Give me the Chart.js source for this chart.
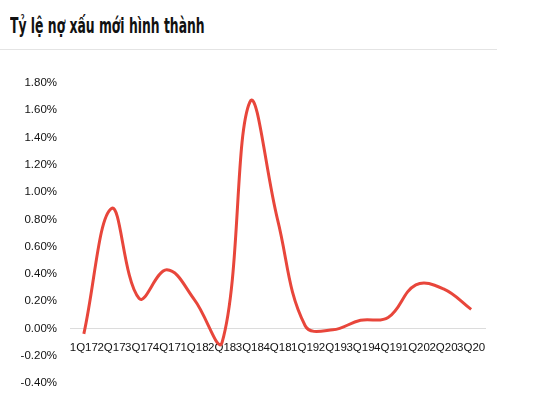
<!DOCTYPE html>
<html>
<head>
<meta charset="utf-8">
<script src="https://cdn.jsdelivr.net/npm/chart.js@4/dist/chart.umd.min.js"></script>
<style>
    html, body { margin: 0; padding: 0; background: #fff; }
    body { width: 538px; height: 406px; position: relative; overflow: hidden; }
    .title {
        position: absolute; left: 10px; top: 14px;
        font-family: "DejaVu Sans", sans-serif;
        font-weight: bold; font-size: 21px; color: #111; white-space: nowrap;
        transform: scaleX(0.59); transform-origin: left top;
    }
    .rule { position: absolute; left: 0; top: 49px; width: 497px; height: 1px; background: #e4e4e4; }
    .chart-box { position: absolute; left: 0; top: 60px; width: 538px; height: 346px; }
</style>
</head>
<body>
<div class="title">Tỷ lệ nợ xấu mới hình thành</div>
<div class="rule"></div>
<div class="chart-box"><canvas id="nplChart"></canvas></div>
<script>
// Quarterly new NPL formation rate (%)
const quarters = ['1Q17', '2Q17', '3Q17', '4Q17', '1Q18', '2Q18', '3Q18', '4Q18',
    '1Q19', '2Q19', '3Q19', '4Q19', '1Q20', '2Q20', '3Q20'];
const nplRate = [-0.04, 0.88, 0.22, 0.43, 0.21, -0.10, 1.66, 0.80,
    0.02, -0.01, 0.06, 0.08, 0.32, 0.29, 0.14];
const yMin = -0.4;
const yMax = 1.8;
const yStep = 0.2;

document.addEventListener('DOMContentLoaded', () => {
    const ctx = document.getElementById('nplChart').getContext('2d');
    new Chart(ctx, {
        type: 'line',
        data: {
            labels: quarters,
            datasets: [{
                data: nplRate,
                borderColor: '#e8463b',
                borderWidth: 3,
                fill: false,
                tension: 0.4,
                pointRadius: 0
            }]
        },
        options: {
            responsive: true,
            maintainAspectRatio: false,
            animation: false,
            layout: {
                padding: { top: 23, right: 53, bottom: 23, left: 0 }
            },
            plugins: {
                legend: { display: false },
                tooltip: { enabled: false }
            },
            scales: {
                x: {
                    position: { y: 0 },
                    offset: true,
                    grid: { display: false, drawTicks: false },
                    border: { display: true, color: '#dcdcdc', width: 1 },
                    ticks: {
                        autoSkip: false,
                        maxRotation: 0,
                        minRotation: 0,
                        padding: 12,
                        color: '#111',
                        font: { family: '"Liberation Sans", Arial, sans-serif', size: 11.5 }
                    }
                },
                y: {
                    min: yMin,
                    max: yMax,
                    afterFit: scale => { scale.width = 70; },
                    grid: { display: false, drawTicks: false },
                    border: { display: false },
                    ticks: {
                        stepSize: yStep,
                        padding: 13,
                        color: '#111',
                        font: { family: '"Liberation Sans", Arial, sans-serif', size: 11.5 },
                        callback: value => `${value.toFixed(2)}%`
                    }
                }
            }
        }
    });
});
</script>
</body>
</html>
